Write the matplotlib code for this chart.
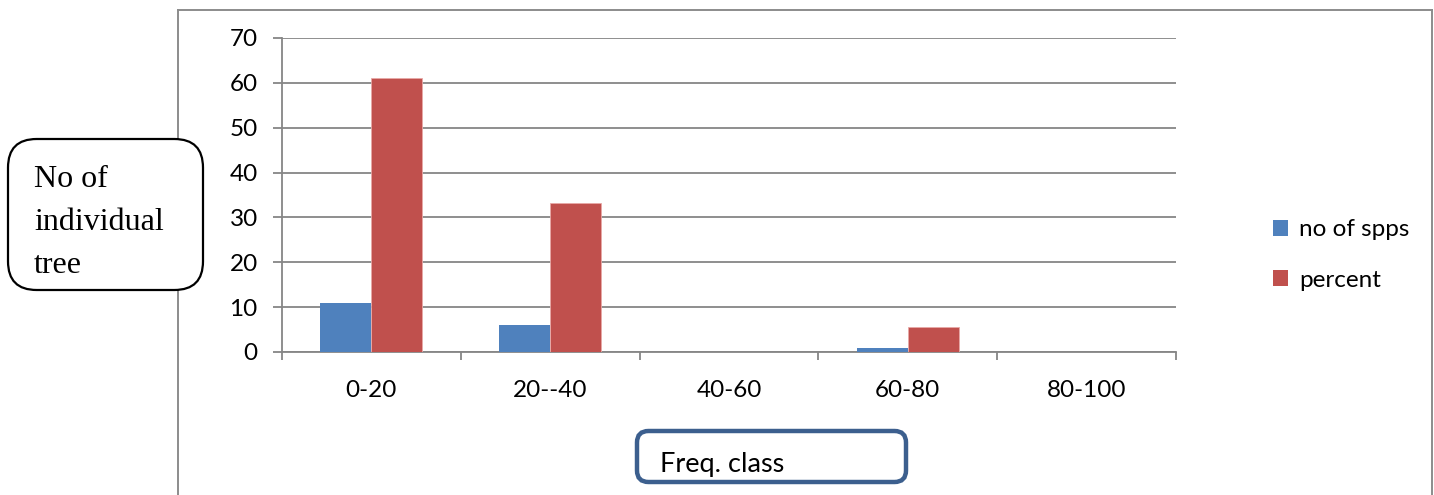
import matplotlib
matplotlib.use("Agg")
import matplotlib.pyplot as plt
from matplotlib.patches import FancyBboxPatch, Patch
from matplotlib.lines import Line2D
import numpy as np

# Frequency classes and the two series
classes = ["0-20", "20--40", "40-60", "60-80", "80-100"]
no_of_spps = [11, 6, 0, 1, 0]
percent = [61.1, 33.3, 0, 5.6, 0]
y_ticks = [0, 10, 20, 30, 40, 50, 60, 70]

W, H = 1434, 495
fig = plt.figure(figsize=(W / 100, H / 100), dpi=100)
fig.patch.set_facecolor("white")

def fx(px):
    return px / W

def fy(py):
    return 1 - py / H

ax = fig.add_axes([fx(282), fy(352), fx(1176) - fx(282), fy(38) - fy(352)])

grey = "#868686"
blue = "#4F81BD"
red = "#C0504D"
FS = 17.5

x = np.arange(len(classes))
bw = 1 / 3.5
ax.bar(x - bw / 2, no_of_spps, width=bw, color=blue, zorder=3, label="no of spps")
ax.bar(x + bw / 2, percent, width=bw, color=red, edgecolor="#E8A9A7", linewidth=0.6,
       zorder=3, label="percent")

ax.set_xlim(-0.5, len(classes) - 0.5)
ax.set_ylim(0, 70)
ax.set_yticks(y_ticks)
ax.yaxis.grid(True, color=grey, linewidth=1.3, zorder=0)
ax.set_axisbelow(True)

for s in ["top", "right"]:
    ax.spines[s].set_visible(False)
for s in ["left", "bottom"]:
    ax.spines[s].set_color(grey)
    ax.spines[s].set_linewidth(1.3)

tick_font = dict(family="Lato", size=FS)
ax.tick_params(axis="y", direction="out", length=6.5, width=1.3, color=grey, pad=11)
for lab in ax.get_yticklabels():
    lab.set_fontfamily("Lato")
    lab.set_fontsize(FS)

# category boundaries carry the ticks, labels sit at the centres
ax.set_xticks(np.arange(-0.5, len(classes), 1.0))
ax.set_xticklabels([])
ax.tick_params(axis="x", which="major", direction="out", length=6, width=1.3, color=grey)
ax.set_xticks(x, minor=True)
ax.set_xticklabels(classes, minor=True, **tick_font)
ax.tick_params(axis="x", which="minor", length=0, pad=20)

# chart frame
frame_kw = dict(color="#8C8C8C", linewidth=1.4, transform=fig.transFigure,
                clip_on=False, zorder=1)
fig.add_artist(Line2D([fx(178), fx(178)], [fy(10), fy(520)], **frame_kw))
fig.add_artist(Line2D([fx(178), fx(1432)], [fy(10), fy(10)], **frame_kw))
fig.add_artist(Line2D([fx(1432), fx(1432)], [fy(10), fy(520)], **frame_kw))

# legend
handles = [Patch(facecolor=blue, label="no of spps"), Patch(facecolor=red, label="percent")]
fig.legend(handles=handles, loc="center left", bbox_to_anchor=(fx(1261), fy(255)),
           frameon=False, prop=dict(family="Lato", size=FS), handlelength=0.62,
           handleheight=0.62, handletextpad=0.45, labelspacing=1.2, borderpad=0)

# y-axis title box
ybox = FancyBboxPatch((fx(8), fy(290)), fx(203) - fx(8), fy(139) - fy(290),
                      boxstyle="round,pad=0,rounding_size=0.02",
                      transform=fig.transFigure, facecolor="white",
                      edgecolor="black", linewidth=1.6, mutation_aspect=W / H, zorder=5)
fig.add_artist(ybox)
for i, line in enumerate(["No of", "individual", "tree"]):
    fig.text(fx(34), fy(187 + 43 * i), line, family="Liberation Serif", fontsize=23,
             ha="left", va="baseline", zorder=6)

# x-axis title box
xbox = FancyBboxPatch((fx(637), fy(482)), fx(906) - fx(637), fy(431) - fy(482),
                      boxstyle="round,pad=0,rounding_size=0.008",
                      transform=fig.transFigure, facecolor="white",
                      edgecolor="#3C5F8E", linewidth=3.2, mutation_aspect=W / H, zorder=5)
fig.add_artist(xbox)
fig.text(fx(660), fy(472), "Freq. class", family="Lato", fontsize=19.5,
         ha="left", va="baseline", zorder=6)

fig.savefig("out.png", dpi=100)
